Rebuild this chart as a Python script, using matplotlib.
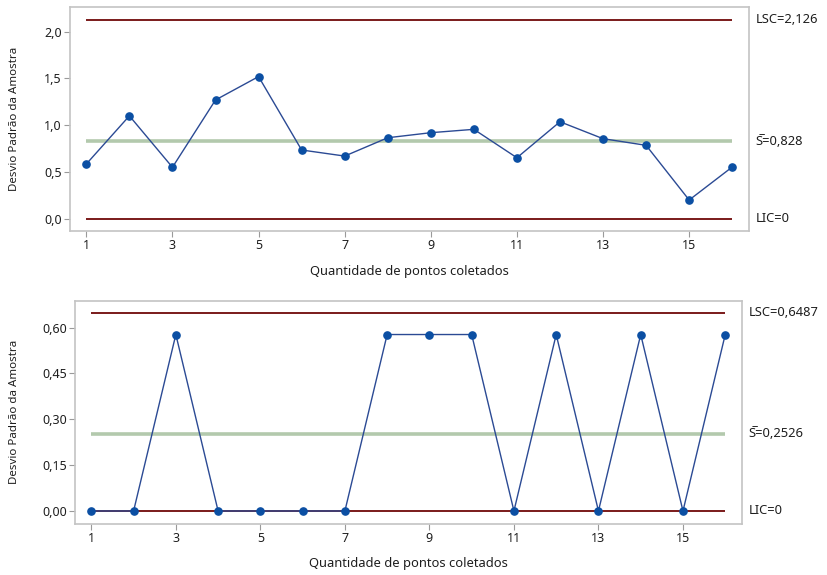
import matplotlib
matplotlib.use("Agg")
import matplotlib.pyplot as plt
from matplotlib.ticker import FuncFormatter
import matplotlib.transforms as mtransforms

plt.rcParams['font.family'] = ['Noto Sans', 'DejaVu Sans']

# Carta S - desvio padrao por amostra
amostras = list(range(1, 17))
s_carta1 = [0.585, 1.10, 0.55, 1.27, 1.52, 0.735, 0.67, 0.866,
            0.92, 0.956, 0.652, 1.037, 0.856, 0.785, 0.20, 0.553]
s_carta2 = [0.0, 0.0, 0.5774, 0.0, 0.0, 0.0, 0.0, 0.5774,
            0.5774, 0.5774, 0.0, 0.5774, 0.0, 0.5774, 0.0, 0.5774]

# limites de controle (LSC, media, LIC)
lim1 = (2.126, 0.828, 0.0)
lim2 = (0.6487, 0.2526, 0.0)
txt1 = ("LSC=2,126", "S\u0305=0,828", "LIC=0")
txt2 = ("LSC=0,6487", "S\u0305=0,2526", "LIC=0")
yticks1 = [0.0, 0.5, 1.0, 1.5, 2.0]
yticks2 = [0.0, 0.15, 0.30, 0.45, 0.60]
xticks = [1, 3, 5, 7, 9, 11, 13, 15]

cor_lim = "#7a1a1a"
cor_media = "#b3c9ad"
cor_linha = "#2b4a94"
cor_ponto = "#0b4fa3"
cor_caixa = "#c4c4c4"
cor_txt = "#1e1e1e"

fig = plt.figure(figsize=(8.28, 5.75), dpi=100)
ax1 = fig.add_axes([0.0845, 0.5983, 0.8201, 0.3895])
ax2 = fig.add_axes([0.0909, 0.0887, 0.8049, 0.3883])


def carta(ax, s, lim, txt, yticks, ylim, casas, ylab_x):
    ax.hlines([lim[0], lim[2]], 1, 16, color=cor_lim, lw=1.4, zorder=2)
    ax.hlines(lim[1], 1, 16, color=cor_media, lw=2.6, zorder=2)
    ax.plot(amostras, s, color=cor_linha, lw=1.0, marker="o", ms=5.2,
            mfc=cor_ponto, mec=cor_ponto, zorder=3)
    ax.set_xlim(0.62, 16.39)
    ax.set_ylim(*ylim)
    ax.set_xticks(xticks)
    ax.set_yticks(yticks)
    ax.yaxis.set_major_formatter(
        FuncFormatter(lambda v, p: f"{v:.{casas}f}".replace(".", ",")))
    for sp in ax.spines.values():
        sp.set_color(cor_caixa)
        sp.set_linewidth(1.2)
    ax.tick_params(direction="out", length=4, width=0.8, color="#9a9a9a",
                   labelsize=9, labelcolor=cor_txt, pad=2)
    ax.set_xlabel("Quantidade de pontos coletados", fontsize=9.3, color=cor_txt)
    ax.set_ylabel("Desvio Padrão da Amostra", fontsize=8.3, color=cor_txt)
    ax.xaxis.set_label_coords(0.5, -0.15)
    ax.yaxis.set_label_coords(ylab_x, 0.5)
    tr = mtransforms.blended_transform_factory(ax.transAxes, ax.transData)
    for v, t in zip(lim, txt):
        ax.text(1.01, v, t, transform=tr, ha="left", va="center",
                fontsize=9.3, color=cor_txt, clip_on=False)


carta(ax1, s_carta1, lim1, txt1, yticks1, (-0.131, 2.264), 1, -0.074)
carta(ax2, s_carta2, lim2, txt2, yticks2, (-0.0426, 0.688), 2, -0.083)

fig.savefig("out.png", dpi=100, facecolor="white")
